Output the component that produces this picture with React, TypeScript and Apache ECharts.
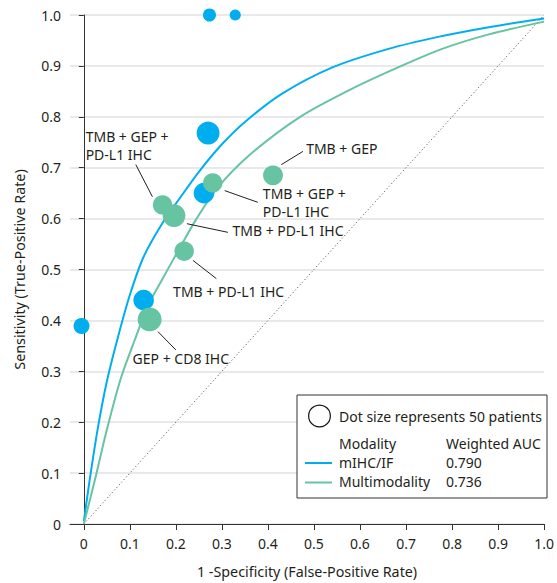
import React, { useEffect, useRef } from "react";
import * as echarts from "echarts";

const xTickValues = [0, 0.1, 0.2, 0.3, 0.4, 0.5, 0.6, 0.7, 0.8, 0.9, 1.0];

// ROC curves [false-positive rate, true-positive rate]
const mihcCurve = [
  [0, 0.005], [0.013, 0.088], [0.03, 0.186], [0.05, 0.28], [0.075, 0.37],
  [0.1, 0.45], [0.13, 0.525], [0.17, 0.59], [0.21, 0.642], [0.25, 0.692],
  [0.3, 0.746], [0.35, 0.79], [0.43, 0.845], [0.54, 0.897], [0.66, 0.933],
  [0.77, 0.957], [0.88, 0.976], [1.0, 0.993],
];
const multiCurve = [
  [0, 0], [0.025, 0.09], [0.05, 0.185], [0.08, 0.285], [0.11, 0.36],
  [0.14, 0.43], [0.17, 0.48], [0.21, 0.545], [0.245, 0.6], [0.29, 0.66],
  [0.36, 0.725], [0.47, 0.8], [0.58, 0.854], [0.69, 0.9], [0.78, 0.934],
  [0.88, 0.962], [1.0, 0.987],
];
const chanceLine = [[0, 0], [1, 1]];

// Study points [FPR, TPR] and patient counts
const mihcPoints = [
  [0.273, 1.0], [0.329, 1.0], [0.27, 0.768], [0.261, 0.65], [0.13, 0.44], [-0.005, 0.389],
];
const mihcPatients = [18, 13, 56, 45, 45, 27];
const multiPoints = [
  [0.411, 0.685], [0.28, 0.67], [0.171, 0.627], [0.196, 0.606], [0.218, 0.536], [0.143, 0.402],
];
const multiPatients = [42, 40, 40, 55, 40, 61];

const annotationTexts = [
  "TMB + GEP +\nPD-L1 IHC",
  "TMB + GEP",
  "TMB + GEP +\nPD-L1 IHC",
  "TMB + PD-L1 IHC",
  "TMB + PD-L1 IHC",
  "GEP + CD8 IHC",
];
const annotationAt = [
  [0.004, 0.744], [0.483, 0.737], [0.389, 0.632], [0.323, 0.576], [0.194, 0.457], [0.106, 0.325],
];
const arrowFrom = [
  [0.113, 0.706], [0.476, 0.732], [0.378, 0.632], [0.313, 0.573], [0.288, 0.482], [0.2, 0.342],
];
const arrowTo = [
  [0.149, 0.643], [0.429, 0.706], [0.306, 0.655], [0.224, 0.59], [0.237, 0.518], [0.161, 0.378],
];

const modalityNames = ["mIHC/IF", "Multimodality"];
const weightedAuc = ["0.790", "0.736"];
const referencePatients = 50;

const BLUE = "#00AEEF";
const GREEN = "#66C4A3";
const INK = "#231F20";
const FONT = '"Noto Sans", sans-serif';
const FS = 14;

const dotSize = (n: number) => 21.7 * Math.sqrt(n / referencePatients);

export default function App() {
  const ref = useRef<HTMLDivElement>(null);
  useEffect(() => {
    document.body.style.margin = "0";
    if (!ref.current) return;
    const chart = echarts.init(ref.current, null, { renderer: "svg" });
    const fmt = (v: number) => (v === 0 ? "0" : v.toFixed(1));
    chart.setOption({
      animation: false,
      textStyle: { fontFamily: FONT },
      grid: { left: 70, right: 12, top: 15, bottom: 58 },
      xAxis: {
        type: "value",
        min: -0.03,
        max: 1,
        name: "1 -Specificity (False-Positive Rate)",
        nameLocation: "middle",
        nameGap: 40,
        nameTextStyle: { fontSize: 14.3, color: INK, fontFamily: FONT },
        axisLine: { show: true, onZero: false, lineStyle: { color: "#333", width: 1 } },
        axisTick: { show: true, length: 6, customValues: xTickValues, lineStyle: { color: "#333" } },
        axisLabel: { customValues: xTickValues, formatter: fmt, fontSize: FS, color: INK, margin: 12, fontFamily: FONT },
        splitLine: { show: false },
      },
      yAxis: {
        type: "value",
        min: 0,
        max: 1,
        interval: 0.1,
        name: "Sensitivity (True-Positive Rate)",
        nameLocation: "middle",
        nameGap: 44,
        nameTextStyle: { fontSize: 14.3, color: INK, fontFamily: FONT },
        axisLine: { show: true, lineStyle: { color: "#333", width: 1 } },
        axisTick: { show: true, length: 5, lineStyle: { color: "#333" } },
        axisLabel: { formatter: fmt, fontSize: FS, color: INK, margin: 9, fontFamily: FONT },
        splitLine: { show: true, lineStyle: { color: "#E2E2E2", width: 1.5 } },
      },
      series: [
        {
          type: "line",
          data: chanceLine,
          showSymbol: false,
          silent: true,
          lineStyle: { color: "#444", width: 1, type: [1, 2.5] },
          z: 1,
          markLine: {
            silent: true,
            symbol: ["none", "arrow"],
            symbolSize: [0, 7],
            label: { show: false },
            lineStyle: { color: INK, width: 1, type: "solid" },
            data: arrowFrom.map((f, i) => [{ coord: f }, { coord: arrowTo[i] }]),
          },
        },
        {
          type: "line",
          data: mihcCurve,
          smooth: 0.3,
          showSymbol: false,
          lineStyle: { color: BLUE, width: 2 },
          z: 2,
        },
        {
          type: "line",
          data: multiCurve,
          smooth: 0.3,
          showSymbol: false,
          lineStyle: { color: GREEN, width: 2 },
          z: 2,
        },
        {
          type: "scatter",
          data: mihcPoints.map((p, i) => [p[0], p[1], mihcPatients[i]]),
          symbolSize: (v: number[]) => dotSize(v[2]),
          itemStyle: { color: BLUE, opacity: 1 },
          z: 3,
        },
        {
          type: "scatter",
          data: multiPoints.map((p, i) => [p[0], p[1], multiPatients[i]]),
          symbolSize: (v: number[]) => dotSize(v[2]),
          itemStyle: { color: GREEN, opacity: 1 },
          z: 4,
        },
      ],
    });

    const labels = annotationTexts.map((t, i) => {
      const [px, py] = chart.convertToPixel({ gridIndex: 0 }, annotationAt[i]) as number[];
      return {
        type: "text",
        x: px,
        y: py,
        silent: true,
        z: 50,
        style: {
          text: t,
          font: `${FS}px ${FONT}`,
          fill: INK,
          align: "left",
          verticalAlign: "middle",
          lineHeight: 18,
        },
      };
    });

    const lx = 297, ly = 395;
    const legendEls: any[] = [
      { type: "rect", shape: { x: lx, y: ly, width: 250, height: 103 }, style: { fill: "#fff", stroke: "#333", lineWidth: 1 }, z: 100 },
      { type: "circle", shape: { cx: 319.5, cy: 416, r: dotSize(referencePatients) / 2 }, style: { fill: "none", stroke: "#111", lineWidth: 1.2 }, z: 101 },
      { type: "text", x: 339, y: 416, z: 101, style: { text: `Dot size represents ${referencePatients} patients`, font: `${FS}px ${FONT}`, fill: INK, verticalAlign: "middle" } },
      { type: "text", x: 339, y: 443, z: 101, style: { text: "Modality", font: `${FS}px ${FONT}`, fill: INK, verticalAlign: "middle" } },
      { type: "text", x: 446, y: 443, z: 101, style: { text: "Weighted AUC", font: `${FS}px ${FONT}`, fill: INK, verticalAlign: "middle" } },
    ];
    const colors = [BLUE, GREEN];
    modalityNames.forEach((m, i) => {
      const y = 462 + i * 19.5;
      legendEls.push(
        { type: "line", shape: { x1: 305, y1: y + 1, x2: 332, y2: y + 1 }, style: { stroke: colors[i], lineWidth: 2 }, z: 101 },
        { type: "text", x: 339, y, z: 101, style: { text: m, font: `${FS}px ${FONT}`, fill: INK, verticalAlign: "middle" } },
        { type: "text", x: 446, y, z: 101, style: { text: weightedAuc[i], font: `${FS}px ${FONT}`, fill: INK, verticalAlign: "middle" } }
      );
    });

    chart.setOption({ graphic: [...labels, ...legendEls] });
    return () => chart.dispose();
  }, []);
  return <div ref={ref} style={{ width: 557, height: 583 }} />;
}
